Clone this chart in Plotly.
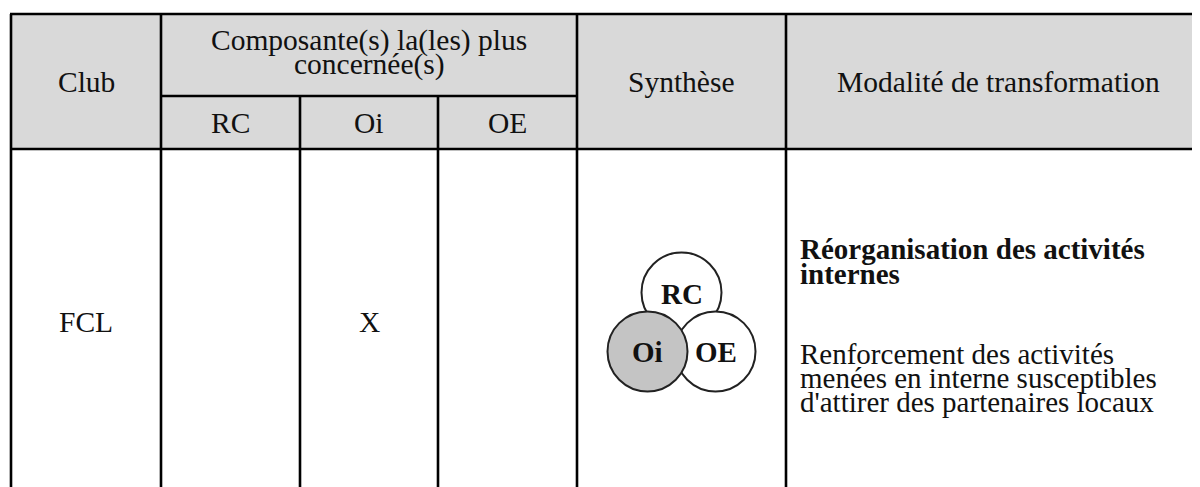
import math
import plotly.graph_objects as go

# ---------------- data ----------------
clubs = ["FCL"]
components = ["RC", "Oi", "OE"]
concerned = {"FCL": ["Oi"]}
header_club = "Club"
header_comp = ["Composante(s) la(les) plus", "concernée(s)"]
header_synth = "Synthèse"
header_mod = "Modalité de transformation"
mod_title = ["Réorganisation des activités", "internes"]
mod_text = ["Renforcement des activités",
            "menées en interne susceptibles",
            "d'attirer des partenaires locaux"]
mark = "X"

# ---------------- layout constants ----------------
W, H = 1200, 487
OFF = 8                                         # default page body margin
xs = [11, 161, 300, 438, 577, 786, 1215]      # column edges
y_top, y_mid, y_head, y_bot = 14, 96, 149, 500
FONT = "Liberation Serif, Times New Roman, serif"
FS = 29.5
LW = 2.6
GRAY = "#d9d9d9"

fig = go.Figure()
fig.add_trace(go.Scatter(x=[OFF, W], y=[OFF, H], mode="markers",
                         marker=dict(opacity=0), hoverinfo="skip", showlegend=False))

shapes = []
shapes.append(dict(type="rect", x0=xs[0], x1=xs[-1], y0=y_top, y1=y_head,
                   fillcolor=GRAY, line=dict(width=0), layer="below"))

def hline(x0, x1, y):
    shapes.append(dict(type="line", x0=x0, x1=x1, y0=y, y1=y,
                       line=dict(color="black", width=LW)))

def vline(x, y0, y1):
    shapes.append(dict(type="line", x0=x, x1=x, y0=y0, y1=y1,
                       line=dict(color="black", width=LW)))

hline(xs[0] - 1, xs[-1], y_top)
hline(xs[0] - 1, xs[-1], y_head)
hline(xs[1], xs[4], y_mid)
for i in [0, 1, 4, 5]:
    vline(xs[i], y_top, y_bot)
for i in [2, 3]:
    vline(xs[i], y_mid, y_bot)

ann = []
def text(x, y, s, size=FS, bold=False, xanchor="center"):
    ann.append(dict(x=x, y=y, text=("<b>%s</b>" % s) if bold else s, showarrow=False,
                    xanchor=xanchor, yanchor="middle",
                    font=dict(family=FONT, size=size, color="#111")))

def cx(i):
    return (xs[i] + xs[i + 1]) / 2

y_hc = (y_top + y_head) / 2
text(cx(0), y_hc, header_club)
text((xs[1] + xs[4]) / 2, 40, header_comp[0])
text((xs[1] + xs[4]) / 2, 64, header_comp[1])
for j, c in enumerate(components):
    text(cx(1 + j), (y_mid + y_head) / 2, c)
text(cx(4), y_hc, header_synth)
text(998, y_hc, header_mod)

y_row = 322
for club in clubs:
    text(cx(0), y_row, club)
    for j, c in enumerate(components):
        if c in concerned[club]:
            text(cx(1 + j), y_row, mark)

    r = 40
    side = 68
    gx = cx(4)
    h = side * math.sqrt(3) / 2
    top_y = y_row - (h + 2 * r) / 2 + r
    centers = {components[0]: (gx, top_y),
               components[1]: (gx - side / 2, top_y + h),
               components[2]: (gx + side / 2, top_y + h)}
    order = [components[0], components[2], components[1]]
    order = [c for c in order if c not in concerned[club]] + \
            [c for c in order if c in concerned[club]]
    for c in order:
        x0, y0 = centers[c]
        shapes.append(dict(type="circle", x0=x0 - r, x1=x0 + r, y0=y0 - r, y1=y0 + r,
                           fillcolor="#c4c4c4" if c in concerned[club] else "white",
                           line=dict(color="#222", width=2)))
    for c in components:
        x0, y0 = centers[c]
        text(x0, y0 + 1, c, size=29, bold=True)

    tx = 798
    for k, s in enumerate(mod_title):
        text(tx, 249 + 25 * k, s, size=29, bold=True, xanchor="left")
    for k, s in enumerate(mod_text):
        text(tx, 354 + 24 * k, s, size=29, xanchor="left")

fig.update_layout(width=W, height=H, margin=dict(l=0, r=0, t=0, b=0),
                  paper_bgcolor="white", plot_bgcolor="white",
                  shapes=shapes, annotations=ann, showlegend=False,
                  xaxis=dict(range=[OFF, W + OFF], visible=False, fixedrange=True),
                  yaxis=dict(range=[H + OFF, OFF], visible=False, fixedrange=True))
fig.write_html("out.html", config={"displayModeBar": False})
